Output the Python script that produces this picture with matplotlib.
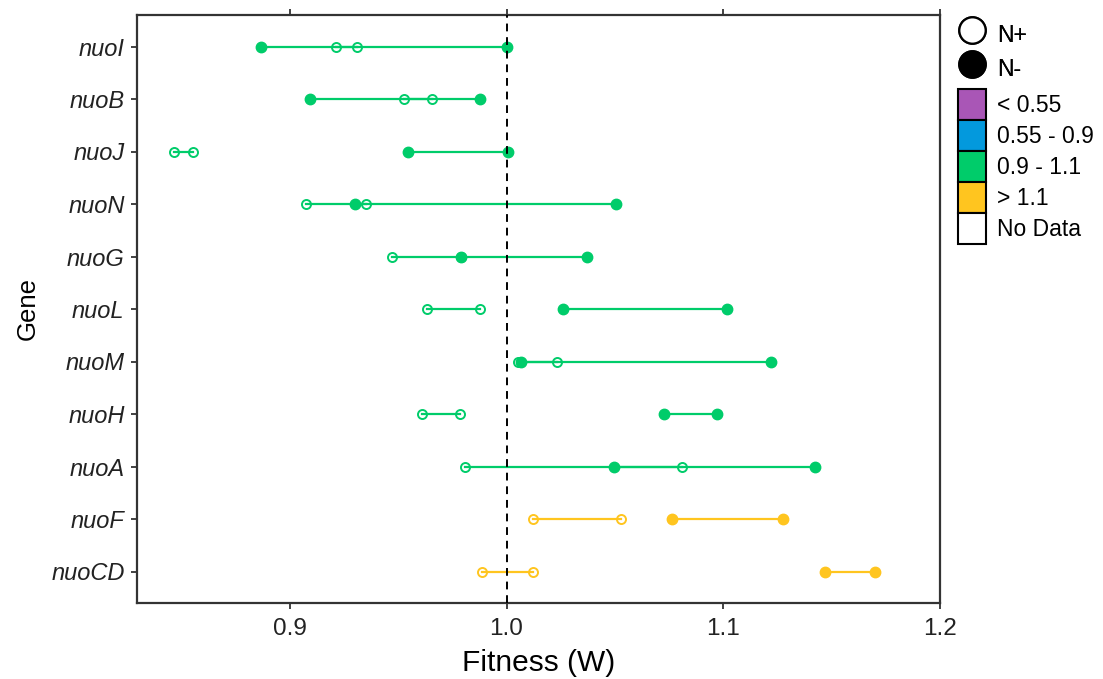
import matplotlib
matplotlib.use('Agg')
import matplotlib.pyplot as plt
from matplotlib.lines import Line2D
from matplotlib.patches import Patch

plt.rcParams['font.family'] = ['Liberation Sans', 'DejaVu Sans']

# genes top to bottom, fitness range for each condition
genes = ['nuoI', 'nuoB', 'nuoJ', 'nuoN', 'nuoG', 'nuoL', 'nuoM', 'nuoH', 'nuoA', 'nuoF', 'nuoCD']
n_plus = [[0.9215, 0.9309], [0.9527, 0.9655], [0.8468, 0.8553], [0.9076, 0.9353],
          [0.9473, 0.9790], [0.9632, 0.9879], [1.0055, 1.0231], [0.9612, 0.9786],
          [0.9808, 1.0810], [1.0120, 1.0528], [0.9889, 1.0120]]
n_minus = [[0.8866, 1.0000], [0.9092, 0.9879], [0.9547, 1.0008], [0.9300, 1.0505],
           [0.9789, 1.0370], [1.0259, 1.1015], [1.0065, 1.1218], [1.0728, 1.0969],
           [1.0497, 1.1421], [1.0764, 1.1275], [1.1468, 1.1699]]
group = ['0.9 - 1.1'] * 9 + ['> 1.1'] * 2

bins = ['< 0.55', '0.55 - 0.9', '0.9 - 1.1', '> 1.1', 'No Data']
bin_cols = {'< 0.55': '#A956B6', '0.55 - 0.9': '#0399DD', '0.9 - 1.1': '#00CC6A',
            '> 1.1': '#FFC51F', 'No Data': '#FFFFFF'}

fig = plt.figure(figsize=(11.03, 6.79), dpi=100)
ax = fig.add_axes([137/1103, 1-603/679, (940-137)/1103, (603-15)/679])

for i, g in enumerate(genes):
    c = bin_cols[group[i]]
    ax.plot(n_plus[i], [i, i], color=c, lw=1.6, marker='o', mfc='none',
            mec=c, ms=6.5, mew=1.4, zorder=2)
    ax.plot(n_minus[i], [i, i], color=c, lw=1.6, marker='o', mfc=c,
            mec=c, ms=7.5, zorder=2.5)

ax.axvline(1.0, color='black', ls=(0, (4, 3)), lw=1.4, zorder=3)

ax.set_xlim(0.8295, 1.2)
ax.set_ylim(10.6, -0.6)
ax.set_xticks([0.9, 1.0, 1.1, 1.2])
ax.set_xticklabels(['0.9', '1.0', '1.1', '1.2'])
ax.set_yticks(range(len(genes)))
ax.set_yticklabels(genes, style='italic')
ax.tick_params(axis='x', labelsize=17.5, colors='#333333', labelcolor='#222222',
               length=4, width=1.3, pad=7, top=True)
ax.tick_params(axis='y', labelsize=17, colors='#333333', labelcolor='#222222',
               length=4, width=1.3, pad=5)
for s in ax.spines.values():
    s.set_linewidth(1.6)
    s.set_color('#333333')

ax.set_xlabel('Fitness (W)', fontsize=21.5, labelpad=6)
ax.set_ylabel('Gene', fontsize=18.5, labelpad=8)

# shape key
shape_handles = [Line2D([], [], ls='none', marker='o', ms=19, mfc='white', mec='black', mew=1.6),
                 Line2D([], [], ls='none', marker='o', ms=19, mfc='black', mec='black', mew=1.6)]
leg1 = fig.legend(shape_handles, ['N+', 'N-'], loc='upper left',
                  bbox_to_anchor=(958/1103, 1-18/679), frameon=False, fontsize=16.5,
                  borderpad=0, borderaxespad=0, labelspacing=0, handlelength=1.22,
                  handleheight=1.91, handletextpad=0.5)

# colour key
col_handles = [Patch(facecolor=bin_cols[b], edgecolor='black', lw=1.5) for b in bins]
leg2 = fig.legend(col_handles, bins, loc='upper left',
                  bbox_to_anchor=(958/1103, 1-89/679), frameon=False, fontsize=16.5,
                  borderpad=0, borderaxespad=0, labelspacing=0, handlelength=1.22,
                  handleheight=1.70, handletextpad=0.5)
fig.add_artist(leg1)

fig.savefig('out.png', dpi=100)
